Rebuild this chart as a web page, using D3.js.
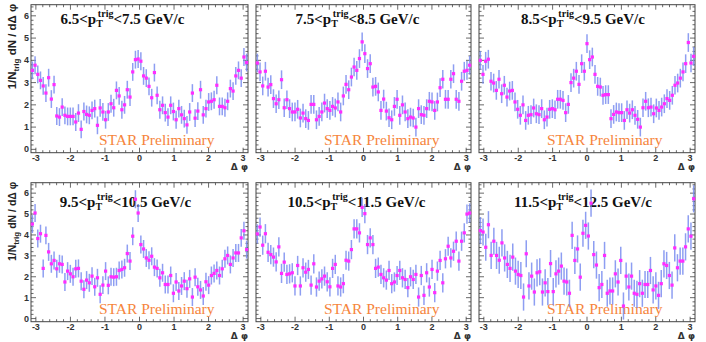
<!DOCTYPE html>
<html>
<head>
<meta charset="utf-8">
<script src="https://cdn.jsdelivr.net/npm/d3@7"></script>
<style>
body { margin: 0; background: #fff; }
svg { display: block; }
</style>
</head>
<body>
<svg id="chart" width="706" height="342"></svg>
<script>
// trigger pT bins, one per panel
var ptLow = ["6.5", "7.5", "8.5", "9.5", "10.5", "11.5"];
var ptHigh = ["7.5", "8.5", "9.5", "10.5", "11.5", "12.5"];

// 1/Ntrig dN/dDphi per panel (equal bins over -pi..pi)
var yield1 = [3.55, 3.78, 3.37, 3.1, 2.85, 2.53, 3.22, 2.26, 2.91, 1.5,
	1.45, 1.9, 1.53, 1.48, 1.48, 1.48, 1.23, 1.63, 0.9, 1.7,
	1.57, 1.53, 1.75, 1.83, 1.08, 1.86, 1.68, 1.33, 1.68, 2.05,
	1.87, 2.65, 2.4, 1.78, 2.0, 2.68, 2.35, 3.48, 4.03, 4.06,
	3.96, 3.3, 3.2, 2.83, 2.32, 3.45, 2.43, 1.78, 1.98, 1.65,
	1.45, 1.98, 1.7, 1.33, 1.83, 1.55, 1.38, 1.1, 1.68, 2.53,
	1.4, 1.72, 2.68, 1.55, 1.83, 2.13, 2.16, 2.23, 2.88, 1.93,
	1.93, 1.87, 2.16, 2.73, 2.62, 3.3, 3.55, 3.2, 4.15, 3.9];
var yield2 = [3.88, 3.48, 2.85, 3.51, 2.8, 2.91, 2.28, 2.05, 2.23, 3.13,
	1.87, 2.23, 1.83, 1.68, 1.68, 1.8, 1.41, 1.63, 1.38, 1.3,
	2.02, 2.02, 1.33, 1.48, 1.68, 2.08, 1.83, 1.75, 1.93, 1.86,
	2.13, 1.68, 2.4, 2.92, 2.68, 3.25, 3.7, 3.55, 4.08, 4.83,
	4.3, 3.63, 3.85, 2.8, 2.83, 2.58, 1.75, 2.26, 1.72, 1.42,
	1.33, 1.93, 2.25, 1.53, 2.0, 1.68, 1.38, 1.45, 1.41, 1.0,
	1.83, 1.56, 1.53, 1.83, 2.16, 2.13, 1.75, 2.13, 2.77, 3.15,
	2.25, 2.25, 3.15, 3.4, 2.25, 2.16, 3.06, 3.51, 3.55, 3.78];
var yield3 = [4.0, 3.37, 3.96, 4.05, 3.06, 2.98, 2.65, 3.15, 2.5, 2.88,
	2.35, 2.62, 2.65, 2.13, 1.8, 1.53, 2.0, 1.3, 1.53, 1.56,
	1.86, 1.6, 1.56, 1.83, 1.33, 1.45, 1.8, 1.83, 1.78, 2.25,
	2.25, 2.2, 1.65, 2.02, 3.0, 3.2, 3.51, 2.92, 3.85, 3.51,
	4.75, 4.03, 4.15, 3.37, 2.83, 2.8, 2.43, 2.46, 2.46, 1.38,
	1.57, 1.68, 1.65, 1.65, 1.3, 1.78, 1.63, 1.78, 1.53, 1.35,
	1.0, 1.87, 2.16, 1.87, 1.9, 1.6, 1.86, 1.75, 1.9, 2.05,
	2.28, 2.2, 2.43, 2.88, 2.98, 3.2, 3.48, 3.85, 4.8, 3.88, 4.18];
var yield4 = [4.52, 5.05, 3.83, 4.06, 2.4, 3.98, 3.19, 2.62, 2.78, 2.38,
	2.62, 2.59, 1.75, 2.27, 2.14, 2.0, 2.38, 2.4, 1.79, 1.4,
	1.84, 1.71, 2.03, 1.52, 1.95, 1.16, 1.6, 2.27, 1.59, 2.0,
	1.98, 2.0, 2.3, 2.35, 2.43, 3.11, 2.75, 3.94, 5.71, 5.05,
	3.54, 3.33, 2.9, 2.79, 2.98, 2.46, 2.4, 1.95, 2.19, 1.63,
	1.63, 2.06, 1.21, 1.75, 1.32, 1.56, 1.79, 1.43, 1.9, 1.03,
	1.98, 1.52, 1.37, 1.08, 1.76, 1.6, 2.06, 2.16, 2.3, 2.06,
	2.38, 2.86, 3.02, 2.59, 2.9, 3.14, 3.14, 3.86, 4.2, 3.3];
var yield5 = [4.05, 4.38, 3.51, 4.06, 3.17, 3.06, 2.94, 2.71, 3.43, 2.16,
	2.7, 2.11, 2.14, 2.19, 1.56, 2.54, 1.56, 2.43, 2.22, 2.35,
	1.6, 2.62, 1.51, 1.79, 1.9, 2.03, 1.76, 1.52, 2.4, 2.59,
	1.56, 1.51, 1.67, 2.79, 2.75, 3.3, 4.29, 4.29, 4.1, 5.32,
	5.02, 3.54, 3.86, 3.54, 2.4, 2.46, 2.11, 1.95, 1.84, 2.3,
	1.67, 1.75, 2.06, 2.3, 1.95, 1.87, 1.48, 2.0, 1.87, 2.11,
	1.03, 2.06, 1.11, 2.19, 1.51, 2.35, 1.24, 2.27, 2.78, 1.71,
	2.86, 3.46, 2.9, 3.22, 3.7, 2.75, 3.7, 4.1, 5.0, 5.05];
var yield6 = [4.21, 4.14, 3.41, 4.49, 3.02, 3.7, 3.02, 2.79, 3.62, 2.9,
	2.59, 2.4, 2.94, 2.27, 2.11, 2.06, 1.03, 3.1, 1.56, 2.03,
	1.27, 2.19, 2.24, 1.27, 1.71, 1.29, 2.63, 1.29, 2.14, 2.27,
	2.51, 1.79, 1.75, 1.21, 3.98, 2.78, 3.33, 1.98, 4.08, 4.46,
	3.95, 5.52, 3.06, 2.56, 1.48, 1.63, 3.02, 1.21, 1.32, 1.32,
	2.14, 1.75, 2.78, 0.6, 2.03, 1.51, 2.03, 1.21, 1.16, 1.67,
	1.21, 1.63, 1.63, 2.3, 1.37, 1.56, 1.11, 1.67, 2.62, 2.54,
	2.06, 1.6, 3.38, 2.43, 2.75, 2.75, 3.43, 4.29, 3.94, 5.73];
var yields = [yield1, yield2, yield3, yield4, yield5, yield6];

// typical statistical error per panel
var errSize = [0.4, 0.42, 0.42, 0.43, 0.46, 0.65];

var xTicks = [-3, -2, -1, 0, 1, 2, 3];
var yTicks = [0, 1, 2, 3, 4, 5, 6];

// ---- layout ----
var cols = [{l: 31, r: 248}, {l: 256, r: 471}, {l: 479, r: 695}];
var rows = [{t: 4.7, b: 152.7}, {t: 182.7, b: 321.7}];
var titleShift = [-17, -6, -4, -14, -7, -4];
var titleDrop = [19, 24];
var yTitleSize = [11.5, 10.5];

var FRAME = "#444";
var BAR = "#7b8ef0";
var MARK = "#ff2cff";
var ORANGE = "#f6853c";

var svg = d3.select("#chart");

function drawPanel(k) {
	var row = Math.floor(k / 3);
	var c = cols[k % 3], r = rows[row];
	var x = d3.scaleLinear().domain([-Math.PI, Math.PI]).range([c.l, c.r]);
	var y = d3.scaleLinear().domain([-0.15, 6.5]).range([r.b, r.t]);
	var g = svg.append("g");

	// frame
	g.append("rect")
		.attr("x", c.l).attr("y", r.t)
		.attr("width", c.r - c.l).attr("height", r.b - r.t)
		.attr("fill", "none").attr("stroke", FRAME).attr("stroke-width", 1);

	// ticks, ROOT style: inside the frame on all four sides
	var xMinor = d3.range(-3, 3.01, 0.2);
	var yMinor = d3.range(0, 6.41, 0.2);
	xMinor.forEach(function(v) {
		var major = Math.abs(v - Math.round(v)) < 1e-6;
		var len = major ? 5 : 2.5;
		g.append("path").attr("d", "M" + x(v) + "," + r.b + "v" + (-len))
			.attr("stroke", FRAME).attr("stroke-width", 0.8);
		g.append("path").attr("d", "M" + x(v) + "," + r.t + "v" + len)
			.attr("stroke", FRAME).attr("stroke-width", 0.8);
	});
	yMinor.forEach(function(v) {
		var major = Math.abs(v - Math.round(v)) < 1e-6;
		var len = major ? 5 : 2.5;
		g.append("path").attr("d", "M" + c.l + "," + y(v) + "h" + len)
			.attr("stroke", FRAME).attr("stroke-width", 0.8);
		g.append("path").attr("d", "M" + c.r + "," + y(v) + "h" + (-len))
			.attr("stroke", FRAME).attr("stroke-width", 0.8);
	});

	// x tick labels
	g.selectAll("text.xt").data(xTicks).enter().append("text")
		.attr("class", "xt")
		.attr("x", function(d) { return x(d); })
		.attr("y", r.b + 8.5)
		.attr("text-anchor", "middle")
		.style("font", "bold 9px 'Liberation Sans', Arial, sans-serif")
		.attr("fill", "#333")
		.text(function(d) { return d; });

	// y tick labels only on the left column
	if (k % 3 === 0) {
		g.selectAll("text.yt").data(yTicks).enter().append("text")
			.attr("class", "yt")
			.attr("x", c.l - 2)
			.attr("y", function(d) { return y(d) + 3; })
			.attr("text-anchor", "end")
			.style("font", "bold 9px 'Liberation Sans', Arial, sans-serif")
			.attr("fill", "#333")
			.text(function(d) { return d; });

		var yt = svg.append("text")
			.attr("transform", "translate(15.5," + (r.t - 1) + ") rotate(-90)")
			.attr("text-anchor", "end")
			.style("font", "bold " + yTitleSize[row] + "px 'Liberation Sans', Arial, sans-serif")
			.attr("fill", "#222");
		yt.append("tspan").text("1/N");
		yt.append("tspan").attr("dy", 3).style("font-size", "8px").text("trig");
		yt.append("tspan").attr("dy", -3).text(" dN / d\u0394 \u03c6");
	}

	// x axis title, sits just under the last tick label
	g.append("text")
		.attr("x", c.r)
		.attr("y", r.b + 17.5)
		.attr("text-anchor", "end")
		.style("font", "bold 9px 'DejaVu Sans', sans-serif")
		.attr("fill", "#333")
		.text("\u0394 \u03c6");

	// panel title
	var t = g.append("text")
		.attr("x", (c.l + c.r) / 2 + titleShift[k])
		.attr("y", r.t + titleDrop[row])
		.attr("text-anchor", "middle")
		.style("font", "bold 15px 'Liberation Serif', 'Times New Roman', serif")
		.attr("fill", "#111");
	t.append("tspan").text(ptLow[k] + "<p");
	t.append("tspan").attr("dy", 3).style("font-size", "10px").text("T");
	t.append("tspan").attr("dx", -5).attr("dy", -10).style("font-size", "10px").text("trig");
	t.append("tspan").attr("dy", 7).text("<" + ptHigh[k] + " GeV/c");

	// STAR Preliminary
	g.append("text")
		.attr("x", c.l + 68)
		.attr("y", r.b - 8)
		.style("font", "15.5px 'Liberation Serif', 'Times New Roman', serif")
		.attr("fill", ORANGE)
		.text("STAR Preliminary");

	// data
	var vals = yields[k];
	var n = vals.length;
	var w = 2 * Math.PI / n;
	var pts = vals.map(function(v, i) { return {x: -Math.PI + (i + 0.5) * w, y: v}; });
	var e = errSize[k];

	g.selectAll("line.err").data(pts).enter().append("line")
		.attr("class", "err")
		.attr("x1", function(d) { return x(d.x); })
		.attr("x2", function(d) { return x(d.x); })
		.attr("y1", function(d) { return Math.max(r.t, y(d.y - e)); })
		.attr("y2", function(d) { return Math.max(r.t, y(d.y + e)); })
		.attr("stroke", BAR).attr("stroke-width", 1.5).attr("opacity", 0.85);

	g.selectAll("rect.pt").data(pts).enter().append("rect")
		.attr("class", "pt")
		.attr("x", function(d) { return x(d.x) - 1.6; })
		.attr("y", function(d) { return y(d.y) - 1.6; })
		.attr("width", 3.2).attr("height", 3.2)
		.attr("fill", MARK);
}

for (var k = 0; k < 6; k++) drawPanel(k);
</script>
</body>
</html>
